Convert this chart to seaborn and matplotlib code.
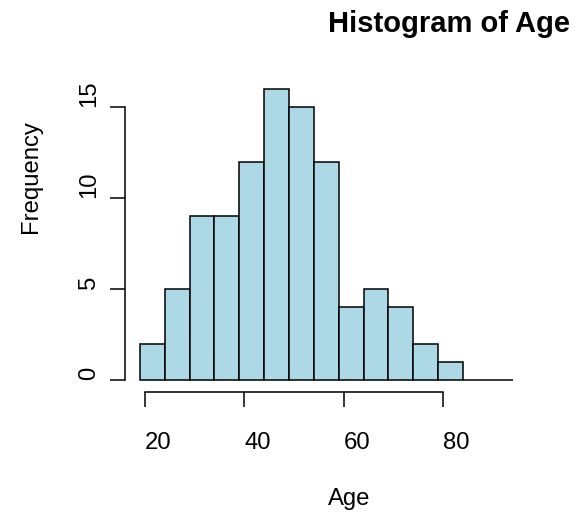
import matplotlib
matplotlib.use("Agg")
import matplotlib.pyplot as plt
import seaborn as sns
import numpy as np

# Data
bin_edges = [19, 24, 29, 34, 39, 44, 49, 54, 59, 64, 69, 74, 79, 84, 89, 94]
counts = [2, 5, 9, 9, 12, 16, 15, 12, 4, 5, 4, 2, 1, 0, 0]
x_ticks = [20, 40, 60, 80]
y_ticks = [0, 5, 10, 15]

sns.set_theme(style="white")
plt.rcParams["font.family"] = ["Liberation Sans", "DejaVu Sans"]
plt.rcParams["text.color"] = "black"
plt.rcParams["axes.labelcolor"] = "black"
plt.rcParams["xtick.color"] = "black"
plt.rcParams["ytick.color"] = "black"

W, H = 580, 512
fig = plt.figure(figsize=(W / 100, H / 100), dpi=100)
left, right, top, bottom = 125, 527.7, 77.2, 391.7
ax = fig.add_axes([left / W, 1 - bottom / H, (right - left) / W, (bottom - top) / H])

centers = [(a + b) / 2 for a, b in zip(bin_edges[:-1], bin_edges[1:])]
sns.histplot(x=centers, weights=counts, bins=bin_edges, color="#ADD8E6",
             edgecolor="black", linewidth=1.1, alpha=1, ax=ax)

ax.set_xlim(16, 97)
ax.set_ylim(-0.64, 16.64)
ax.set_xlabel("")
ax.set_ylabel("")

for s in ["top", "right"]:
    ax.spines[s].set_visible(False)
for s in ["left", "bottom"]:
    ax.spines[s].set_visible(True)
    ax.spines[s].set_color("black")
    ax.spines[s].set_linewidth(1.1)
ax.spines["bottom"].set_bounds(x_ticks[0], x_ticks[-1])
ax.spines["left"].set_bounds(y_ticks[0], y_ticks[-1])

fs = 17.2
ax.set_xticks(x_ticks)
ax.set_xticklabels([str(t) for t in x_ticks], ha="left", fontsize=fs, color="black")
ax.set_yticks(y_ticks)
ax.set_yticklabels([str(t) for t in y_ticks], rotation=90, va="bottom", ha="right",
                   fontsize=fs, color="black")
ax.tick_params(axis="x", direction="out", length=10.8, width=1.1, color="black", pad=18, bottom=True)
ax.tick_params(axis="y", direction="out", length=10.8, width=1.1, color="black", pad=7.2, left=True)
ax.grid(False)

fig.text(328 / W, 1 - 32 / H, "Histogram of Age", ha="left", va="baseline",
         fontsize=21, fontweight="bold", color="black")
fig.text(328 / W, 1 - 505 / H, "Age", ha="left", va="baseline", fontsize=fs, color="black")
fig.text(37 / W, 1 - 233 / H, "Frequency", rotation=90, rotation_mode="anchor",
         ha="left", va="baseline", fontsize=fs, color="black")

fig.savefig("out.png", dpi=100)
